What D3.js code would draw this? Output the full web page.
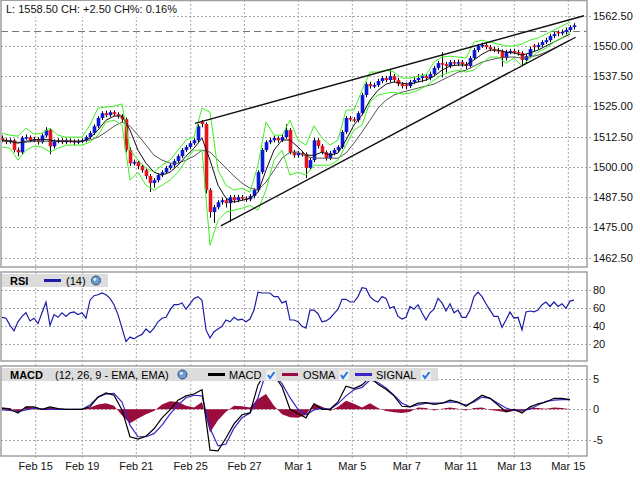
<!DOCTYPE html>
<html>
<head>
<meta charset="utf-8">
<script src="https://cdn.jsdelivr.net/npm/d3@7"></script>
<style>
  body { margin: 0; background: #fff; }
  svg { display: block; font-family: "Liberation Sans", Arial, sans-serif; }
</style>
</head>
<body>
<svg id="chart" width="640" height="480"></svg>
<script>
// ---- price bars (one per bar) ----
const opens = [
  1512.0,1511.0,1510.2,1511.0,1507.0,1506.0,1512.0,1512.3,1511.0,1511.5,
  1510.2,1513.0,1515.2,1508.5,1510.6,1511.0,1510.2,1511.0,1510.6,1510.2,
  1510.6,1511.0,1512.3,1514.0,1516.8,1520.2,1522.2,1521.4,1522.6,1521.8,
  1521.0,1519.7,1507.0,1501.5,1502.0,1500.3,1498.6,1496.2,1493.3,1494.5,
  1496.6,1497.8,1499.5,1500.7,1502.4,1504.4,1507.0,1508.2,1509.8,1511.0,
  1518.5,1517.7,1490.4,1481.3,1483.3,1485.4,1486.2,1485.0,1487.5,1486.2,
  1487.5,1487.0,1486.6,1487.9,1490.4,1497.8,1507.0,1510.2,1511.0,1511.9,
  1511.0,1512.3,1515.2,1506.1,1504.8,1505.7,1505.3,1499.5,1502.8,1511.0,
  1508.6,1506.1,1503.6,1505.7,1507.0,1508.2,1514.4,1520.2,1519.7,1519.3,
  1522.2,1529.7,1534.2,1533.4,1533.8,1535.5,1536.7,1535.9,1537.5,1535.9,
  1534.2,1534.0,1533.4,1535.1,1535.9,1536.7,1537.5,1536.7,1538.4,1540.9,
  1542.9,1542.5,1541.7,1543.3,1542.9,1543.3,1542.5,1541.7,1545.0,1548.3,
  1550.0,1550.4,1549.5,1548.7,1548.3,1547.9,1545.0,1547.5,1547.9,1547.5,
  1547.1,1544.2,1545.8,1550.2,1549.5,1550.4,1551.6,1552.4,1554.1,1555.8,
  1555.3,1555.8,1556.6,1557.8
];
const highs = [
  1513.0,1511.8,1511.8,1511.6,1508.0,1512.8,1513.4,1513.0,1512.4,1512.2,
  1513.8,1516.4,1515.8,1511.4,1511.8,1511.8,1511.8,1511.8,1511.4,1511.4,
  1511.8,1513.0,1514.8,1517.6,1521.0,1523.0,1523.2,1523.4,1523.4,1522.6,
  1521.8,1520.4,1508.0,1503.0,1502.8,1501.2,1499.4,1497.0,1495.4,1497.4,
  1498.6,1500.4,1501.6,1503.2,1505.2,1507.8,1509.0,1510.6,1511.8,1517.6,
  1519.4,1518.4,1491.2,1484.2,1486.2,1487.2,1487.0,1488.4,1488.4,1488.4,
  1488.4,1487.8,1488.8,1491.2,1498.6,1507.8,1511.0,1512.0,1512.8,1512.6,
  1513.2,1517.6,1516.0,1507.0,1506.6,1506.6,1506.0,1503.6,1512.0,1511.8,
  1509.4,1506.8,1506.6,1507.8,1509.0,1515.2,1521.0,1521.0,1520.6,1523.0,
  1530.6,1535.0,1535.2,1534.8,1536.4,1537.6,1537.6,1540.0,1538.4,1536.8,
  1535.0,1534.8,1536.0,1537.0,1538.4,1538.6,1538.4,1539.4,1541.8,1543.8,
  1547.4,1543.4,1544.2,1544.2,1544.4,1544.2,1543.4,1545.8,1549.2,1550.8,
  1551.4,1551.2,1550.4,1549.6,1549.2,1548.6,1548.4,1548.8,1548.8,1548.4,
  1547.8,1546.6,1549.6,1550.8,1551.4,1552.4,1553.4,1555.0,1555.8,1556.4,
  1556.8,1557.6,1558.6,1559.4
];
const lows = [
  1510.2,1509.4,1509.6,1506.0,1504.4,1505.2,1511.2,1510.2,1510.2,1509.2,
  1509.6,1512.2,1505.2,1507.6,1509.8,1509.4,1509.4,1509.8,1509.0,1509.4,
  1509.8,1510.2,1511.6,1513.2,1516.0,1519.4,1520.6,1520.6,1521.0,1520.0,
  1518.6,1506.0,1500.4,1500.6,1499.0,1497.6,1495.0,1489.6,1491.4,1493.6,
  1495.8,1497.0,1498.8,1499.8,1501.6,1503.6,1506.2,1507.4,1509.0,1510.2,
  1516.4,1489.0,1479.0,1476.8,1482.4,1484.4,1483.2,1477.2,1485.2,1485.4,
  1486.0,1485.6,1485.8,1487.0,1489.6,1497.0,1506.2,1509.4,1510.2,1510.0,
  1510.2,1511.6,1505.2,1503.8,1503.8,1504.2,1495.4,1498.6,1502.0,1507.6,
  1505.2,1502.6,1502.8,1504.8,1506.2,1507.4,1513.6,1518.8,1518.4,1518.4,
  1521.4,1528.8,1532.4,1532.6,1533.0,1534.6,1535.0,1535.0,1535.0,1533.4,
  1532.4,1532.2,1532.6,1534.2,1535.0,1535.0,1535.6,1535.8,1537.6,1540.0,
  1537.0,1539.0,1540.8,1541.8,1541.8,1541.4,1540.4,1540.8,1544.2,1547.4,
  1549.2,1548.6,1547.8,1547.4,1546.8,1541.4,1544.0,1546.6,1546.6,1546.0,
  1541.6,1542.6,1545.0,1547.8,1548.6,1549.6,1550.8,1551.6,1553.2,1554.0,
  1554.4,1554.8,1555.8,1556.8
];
const closes = [
  1511.0,1510.2,1511.0,1507.0,1506.0,1512.0,1512.3,1511.0,1511.5,1510.2,
  1513.0,1515.2,1508.5,1510.6,1511.0,1510.2,1511.0,1510.6,1510.2,1510.6,
  1511.0,1512.3,1514.0,1516.8,1520.2,1522.2,1521.4,1522.6,1521.8,1521.0,
  1519.7,1507.0,1501.5,1502.0,1500.3,1498.6,1496.2,1493.3,1494.5,1496.6,
  1497.8,1499.5,1500.7,1502.4,1504.4,1507.0,1508.2,1509.8,1511.0,1516.8,
  1517.7,1490.4,1481.3,1483.3,1485.4,1486.2,1485.0,1487.5,1486.2,1487.5,
  1487.0,1486.6,1487.9,1490.4,1497.8,1507.0,1510.2,1511.0,1511.9,1511.0,
  1512.3,1515.2,1506.1,1504.8,1505.7,1505.3,1499.5,1502.8,1511.0,1508.6,
  1506.1,1503.6,1505.7,1507.0,1508.2,1514.4,1520.2,1519.7,1519.3,1522.2,
  1529.7,1534.2,1533.4,1533.8,1535.5,1536.7,1535.9,1537.5,1535.9,1534.2,
  1533.4,1533.4,1535.1,1535.9,1536.7,1537.5,1536.7,1538.4,1540.9,1542.9,
  1542.5,1541.7,1543.3,1542.9,1543.3,1542.5,1541.7,1545.0,1548.3,1550.0,
  1550.4,1549.5,1548.7,1548.3,1547.9,1545.0,1547.5,1547.9,1547.5,1547.1,
  1544.2,1545.8,1548.7,1549.5,1550.4,1551.6,1552.4,1554.1,1554.9,1555.3,
  1555.8,1556.6,1557.8,1558.5
];

// ---- overlays, read every second bar ----
const bandUpper = [
  1513.9,1513.1,1512.7,1516.0,1513.5,1513.9,1516.0,1513.1,1512.3,1512.3,
  1512.3,1517.3,1524.3,1524.7,1525.1,1526.0,1506.9,1502.8,1499.5,1497.8,
  1500.7,1502.8,1506.9,1511.1,1512.3,1524.3,1522.6,1498.6,1492.4,1490.4,
  1491.2,1489.5,1500.7,1518.5,1513.1,1513.1,1519.3,1511.1,1509.0,1517.0,
  1511.9,1509.0,1511.1,1523.5,1523.5,1531.7,1539.2,1539.2,1540.0,1539.2,
  1536.7,1536.7,1537.5,1538.0,1543.3,1545.4,1545.8,1545.4,1545.0,1551.6,
  1552.4,1551.6,1550.8,1550.0,1550.0,1550.8,1552.4,1553.3,1554.9,1556.6,
  1558.2,1559.9
];
const bandLower = [
  1508.2,1507.7,1502.8,1506.9,1508.6,1508.2,1506.1,1507.7,1509.0,1509.0,
  1509.0,1510.2,1513.1,1518.5,1519.3,1517.3,1494.5,1497.8,1492.4,1490.4,
  1492.4,1494.5,1497.8,1502.8,1506.9,1506.9,1467.6,1477.9,1481.3,1482.1,
  1482.9,1484.1,1482.1,1490.4,1502.8,1506.9,1496.6,1497.8,1496.6,1500.7,
  1500.7,1500.7,1502.8,1509.0,1515.2,1517.3,1526.8,1529.7,1530.5,1530.9,
  1530.1,1530.5,1531.7,1533.4,1535.9,1538.0,1539.2,1540.0,1539.2,1540.0,
  1542.9,1545.4,1545.4,1542.9,1545.0,1541.7,1545.0,1547.5,1549.1,1551.6,
  1553.3,1555.8
];
const maFast = [
  1511.1,1510.6,1509.8,1510.6,1511.1,1511.5,1511.1,1510.6,1510.6,1510.6,
  1510.6,1511.9,1515.2,1519.3,1521.0,1521.0,1515.2,1506.9,1501.5,1497.8,
  1496.6,1497.8,1500.7,1504.4,1507.7,1511.9,1502.8,1492.4,1487.0,1485.4,
  1486.2,1487.0,1489.5,1498.6,1506.9,1511.1,1511.1,1508.2,1504.8,1504.8,
  1506.1,1504.8,1505.7,1511.1,1517.3,1521.4,1527.6,1531.7,1534.2,1535.1,
  1534.6,1534.2,1535.1,1535.9,1537.5,1540.0,1541.7,1542.1,1542.1,1544.2,
  1546.6,1548.3,1548.3,1547.5,1547.1,1546.2,1547.1,1548.3,1550.0,1551.6,
  1553.3,1554.9
];
const maSlow = [
  1510.6,1510.6,1510.2,1510.2,1510.6,1510.6,1510.6,1510.6,1510.6,1510.6,
  1510.6,1511.1,1512.3,1514.4,1516.8,1518.5,1516.8,1513.1,1509.0,1504.8,
  1502.8,1501.5,1501.5,1502.8,1504.4,1506.9,1506.1,1502.8,1499.5,1496.2,
  1493.3,1491.2,1490.4,1493.7,1498.6,1503.6,1506.1,1506.1,1504.4,1503.6,
  1503.6,1503.6,1503.6,1505.7,1509.8,1514.4,1519.3,1524.3,1527.6,1529.7,
  1530.9,1531.7,1532.6,1533.4,1534.2,1535.9,1537.5,1539.2,1540.0,1541.7,
  1543.3,1544.2,1545.0,1545.4,1545.4,1545.0,1545.4,1546.2,1547.5,1549.1,
  1550.8,1552.4
];
// trend lines: [bar index, price] start and end
const trendStart = [[48.25, 1518.0], [54.7, 1475.6]];
const trendEnd   = [[145.5, 1562.5], [143.4, 1553.6]];
const prevClose = 1556.0;

// ---- RSI (14), one per bar ----
const rsi = [
  50,49,41,35,45,51,55,46,49,43,
  55,67,41,53,50,55,51,55,56,53,
  55,49,69,74,75,77,75,71,64,53,
  38,23,28,26,29,31,37,33,38,45,
  49,50,58,64,64,66,59,65,71,73,
  69,36,27,34,37,40,47,45,50,47,
  48,45,48,58,78,77,77,77,73,73,
  66,68,47,47,45,40,38,58,58,54,
  45,46,49,54,59,70,70,67,67,73,
  83,82,73,69,67,73,71,60,62,51,
  48,50,62,59,64,55,47,55,59,71,
  66,57,65,55,58,50,50,58,73,78,
  73,65,58,51,51,39,47,56,49,50,
  36,56,57,56,58,64,67,62,67,62,
  65,60,68,69
];

// ---- MACD (12, 26, 9), read every second bar ----
const macd = [
  0.2,0.0,-0.6,0.4,0.4,0.0,0.4,0.1,0.0,0.0,
  0.0,0.4,2.0,2.7,2.3,-0.1,-4.5,-4.9,-4.4,-3.2,
  -1.4,-0.1,1.5,2.2,2.5,3.2,-6.7,-6.8,-4.7,-2.4,
  -0.9,-0.6,4.0,6.1,5.6,3.7,0.0,-0.7,-1.4,0.9,
  0.0,0.0,1.2,3.8,3.4,4.0,5.3,4.1,3.3,2.2,
  0.5,0.4,1.0,1.1,0.8,1.0,1.5,1.2,0.5,1.4,
  2.3,1.8,0.7,-0.4,0.0,-0.6,0.4,0.9,1.2,1.8,
  1.8,1.6
];
const signal = [
  -0.1,-0.2,-0.4,-0.1,0.2,0.0,0.0,0.0,0.0,0.0,
  0.0,0.7,2.0,2.5,2.6,1.2,-2.6,-4.5,-4.5,-4.0,
  -2.6,-0.8,0.7,1.9,2.3,2.2,-3.1,-6.0,-5.7,-3.1,
  -1.4,-0.6,1.9,6.0,5.6,4.2,1.9,0.0,-0.9,-0.1,
  0.2,0.0,0.9,2.2,3.2,3.6,4.8,4.4,3.5,2.3,
  1.0,0.4,0.7,1.0,1.0,1.0,1.2,1.1,0.7,1.2,
  2.0,1.8,1.0,0.2,-0.2,-0.2,0.0,0.7,1.3,1.5,
  1.6,1.6
];
const osma = [
  0.3,0.2,-0.5,0.4,0.3,0.1,0.3,0.1,0.0,0.0,
  0.0,0.3,0.8,1.0,0.6,-1.0,-2.3,-1.5,-0.8,-0.3,
  0.8,1.3,1.2,0.6,0.3,1.2,-3.8,-1.8,-0.4,0.6,
  0.5,0.3,1.7,2.5,0.6,-0.8,-1.3,-1.4,-0.9,1.0,
  0.4,-0.3,0.4,1.4,0.9,0.3,1.0,0.2,-0.3,-0.5,
  -0.6,-0.4,0.3,0.2,-0.2,0.1,0.3,0.1,-0.2,0.2,
  0.3,-0.1,-0.3,-0.5,-0.3,-0.4,0.3,0.2,0.1,0.3,
  0.2,0.0
];

// ---- axes ----
const priceTicks = [1462.5,1475,1487.5,1500,1512.5,1525,1537.5,1550,1562.5];
const rsiTicks = [20,40,60,80];
const macdTicks = [-5,0,5];
const dateLabels = ["Feb 15","Feb 19","Feb 21","Feb 25","Feb 27","Mar 1","Mar 5","Mar 7","Mar 11","Mar 13","Mar 15"];
const datePos = [8.43,20.08,33.58,47.18,60.63,74.08,87.58,101.18,114.75,128.08,141.58];

const svg = d3.select('#chart');
const L = 1, R = 587;
const P = { main: [0.5, 267], rsi: [272, 361], macd: [366, 456] };

const x = d3.scaleLinear().domain([0, closes.length - 1]).range([2, 574]);
const yP = d3.scaleLinear().domain([1458.6, 1569.0]).range([267, 0]);
const yR = d3.scaleLinear().domain([0, 100]).range([362.3, 272.3]);
const yM = d3.scaleLinear().domain([-7.66, 7.1]).range([456, 366]);
const every2 = arr => arr.map((v, k) => ({ i: k * 2, v }));

const defs = svg.append('defs');
Object.entries(P).forEach(([k, [t, b]]) => {
  defs.append('clipPath').attr('id', 'clip-' + k)
    .append('rect').attr('x', L).attr('y', t).attr('width', R - L).attr('height', b - t);
});

// vertical grid through all panels
svg.append('g').selectAll('line').data(datePos).join('line')
  .attr('x1', d => x(d)).attr('x2', d => x(d))
  .attr('y1', 0).attr('y2', 460)
  .attr('stroke', '#a8a8a8').attr('stroke-dasharray', '2,2');

function hGrid(scale, ticks, fmt) {
  const g = svg.append('g');
  g.selectAll('line').data(ticks).join('line')
    .attr('x1', L).attr('x2', R + 5)
    .attr('y1', d => Math.round(scale(d)) + 0.5).attr('y2', d => Math.round(scale(d)) + 0.5)
    .attr('stroke', '#a8a8a8').attr('stroke-dasharray', '2,2');
  g.selectAll('text').data(ticks).join('text')
    .attr('x', R + 6).attr('y', d => scale(d) + 4)
    .attr('font-size', 11).attr('fill', '#111')
    .text(fmt);
}
hGrid(yP, priceTicks, d3.format('.2f'));
hGrid(yR, rsiTicks, d => d);
hGrid(yM, macdTicks, d => d);

// previous close
svg.append('line')
  .attr('x1', L).attr('x2', R)
  .attr('y1', Math.round(yP(prevClose)) + 0.5).attr('y2', Math.round(yP(prevClose)) + 0.5)
  .attr('stroke', '#777').attr('stroke-dasharray', '7,4');

// ---- main panel ----
const main = svg.append('g').attr('clip-path', 'url(#clip-main)');

main.selectAll('line.wick').data(closes).join('line').attr('class', 'wick')
  .attr('x1', (d, i) => x(i) + 0.5).attr('x2', (d, i) => x(i) + 0.5)
  .attr('y1', (d, i) => yP(highs[i])).attr('y2', (d, i) => yP(lows[i]))
  .attr('stroke', '#000').attr('stroke-width', 1);

main.selectAll('rect.body').data(closes).join('rect').attr('class', 'body')
  .attr('x', (d, i) => x(i) - 1.3)
  .attr('width', 3.6)
  .attr('y', (d, i) => yP(Math.max(d, opens[i])))
  .attr('height', (d, i) => Math.max(1.5, Math.abs(yP(d) - yP(opens[i]))))
  .attr('fill', (d, i) => d >= opens[i] ? '#0a1ad8' : '#e3141c');

const pLine = d3.line().x(d => x(d.i)).y(d => yP(d.v));
main.append('path').datum(every2(maSlow)).attr('d', pLine)
  .attr('fill', 'none').attr('stroke', '#555').attr('stroke-width', 1);
main.append('path').datum(every2(maFast)).attr('d', pLine)
  .attr('fill', 'none').attr('stroke', '#111').attr('stroke-width', 1);
[bandUpper, bandLower].forEach(b => {
  main.append('path').datum(every2(b)).attr('d', pLine)
    .attr('fill', 'none').attr('stroke', '#3cf01e').attr('stroke-width', 1);
});

main.selectAll('line.trend').data(trendStart).join('line').attr('class', 'trend')
  .attr('x1', d => x(d[0])).attr('y1', d => yP(d[1]))
  .attr('x2', (d, k) => x(trendEnd[k][0])).attr('y2', (d, k) => yP(trendEnd[k][1]))
  .attr('stroke', '#111').attr('stroke-width', 1.4);

// ---- RSI panel ----
const rsiG = svg.append('g').attr('clip-path', 'url(#clip-rsi)');
rsiG.append('path').datum(rsi)
  .attr('d', d3.line().x((d, i) => x(i)).y(d => yR(d)))
  .attr('fill', 'none').attr('stroke', '#1c1ca6').attr('stroke-width', 1.2);

// ---- MACD panel ----
const macdG = svg.append('g').attr('clip-path', 'url(#clip-macd)');
macdG.append('path').datum(every2(osma))
  .attr('d', d3.area().x(d => x(d.i)).y0(yM(0)).y1(d => yM(d.v)))
  .attr('fill', '#9a0b3e');
const mLine = d3.line().x(d => x(d.i)).y(d => yM(d.v));
macdG.append('path').datum(every2(signal)).attr('d', mLine)
  .attr('fill', 'none').attr('stroke', '#3a24c4').attr('stroke-width', 1.2);
macdG.append('path').datum(every2(macd)).attr('d', mLine)
  .attr('fill', 'none').attr('stroke', '#000').attr('stroke-width', 1.2);

// ---- frames ----
Object.values(P).forEach(([t, b]) => {
  svg.append('rect').attr('x', L).attr('y', t).attr('width', R - L).attr('height', b - t)
    .attr('fill', 'none').attr('stroke', '#a0a0a0').attr('stroke-width', 1.5);
});

// ---- date axis ----
svg.append('g').selectAll('text').data(dateLabels).join('text')
  .attr('x', (d, i) => x(datePos[i])).attr('y', 470)
  .attr('text-anchor', 'middle').attr('font-size', 11).attr('fill', '#111')
  .text(d => d);

// ---- headers ----
svg.append('rect').attr('x', 2).attr('y', 1).attr('width', 168).attr('height', 16).attr('fill', '#fff');
svg.append('text').attr('x', 6).attr('y', 13).attr('font-size', 11).attr('fill', '#111')
  .text('L: 1558.50 CH: +2.50 CH%: 0.16%');

function globe(cx, cy) {
  svg.append('circle').attr('cx', cx).attr('cy', cy).attr('r', 4.5)
    .attr('fill', '#6d9ccc').attr('stroke', '#2e4f7a').attr('stroke-width', 1);
  svg.append('circle').attr('cx', cx - 1.2).attr('cy', cy - 1.2).attr('r', 1.6).attr('fill', '#d7e6f5');
}
function check(cx, cy) {
  svg.append('rect').attr('x', cx - 5).attr('y', cy - 5).attr('width', 10).attr('height', 10)
    .attr('fill', '#f0f0f0');
  svg.append('path').attr('d', `M${cx - 3},${cy} L${cx - 1},${cy + 3} L${cx + 3.5},${cy - 3}`)
    .attr('fill', 'none').attr('stroke', '#1f78e0').attr('stroke-width', 2);
}
function legendLine(x1, x2, y, color) {
  svg.append('line').attr('x1', x1).attr('x2', x2).attr('y1', y).attr('y2', y)
    .attr('stroke', color).attr('stroke-width', 3);
}

svg.append('rect').attr('x', 2).attr('y', 274).attr('width', 106).attr('height', 13).attr('fill', '#dcdcdc');
svg.append('text').attr('x', 10).attr('y', 284.5).attr('font-size', 11).attr('font-weight', 'bold').text('RSI');
legendLine(44, 61, 280.5, '#1c1ca6');
svg.append('text').attr('x', 66).attr('y', 284.5).attr('font-size', 11).text('(14)');
globe(96, 280.5);

svg.append('rect').attr('x', 2).attr('y', 368).attr('width', 436).attr('height', 13).attr('fill', '#dcdcdc');
svg.append('text').attr('x', 10).attr('y', 378.5).attr('font-size', 11).attr('font-weight', 'bold').text('MACD');
svg.append('text').attr('x', 55).attr('y', 378.5).attr('font-size', 11).text('(12, 26, 9 - EMA, EMA)');
globe(182.5, 374.5);
legendLine(208, 225, 374.5, '#000');
svg.append('text').attr('x', 229).attr('y', 378.5).attr('font-size', 11).text('MACD');
check(271, 375);
legendLine(282, 298, 374.5, '#9a0b3e');
svg.append('text').attr('x', 303).attr('y', 378.5).attr('font-size', 11).text('OSMA');
check(344, 375);
legendLine(355, 372, 374.5, '#3a24c4');
svg.append('text').attr('x', 376).attr('y', 378.5).attr('font-size', 11).text('SIGNAL');
check(426, 375);
</script>
</body>
</html>
